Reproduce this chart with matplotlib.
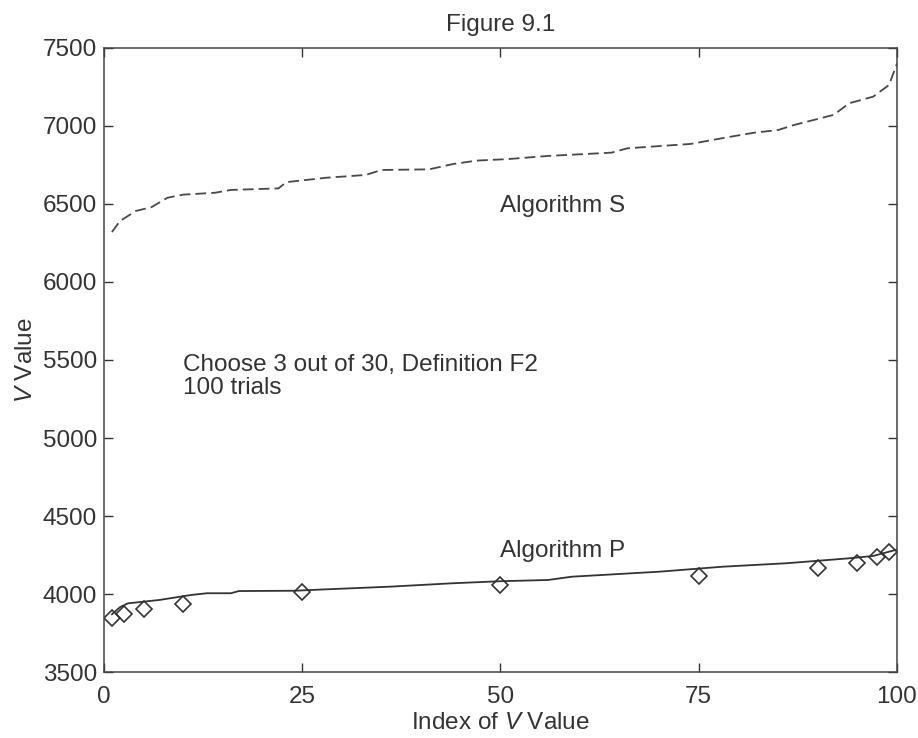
import numpy as np
import matplotlib
matplotlib.use("Agg")
import matplotlib.pyplot as plt

plt.rcParams['font.family'] = ['Liberation Sans', 'DejaVu Sans']
plt.rcParams['mathtext.fontset'] = 'custom'
plt.rcParams['mathtext.rm'] = 'Liberation Sans'
plt.rcParams['mathtext.it'] = 'Liberation Sans:italic'

# Algorithm S (dashed), sorted V values
s_idx = [1, 2, 4, 6, 8, 10, 14, 16, 22, 23, 28, 33, 35, 41, 44, 47, 51, 56,
         64, 66, 74, 79, 82, 85, 87, 92, 94, 97, 99, 100]
s_val = [6320, 6390, 6455, 6480, 6540, 6560, 6572, 6590, 6600, 6640, 6668,
         6686, 6718, 6722, 6756, 6778, 6788, 6808, 6829, 6857, 6885, 6931,
         6957, 6974, 7006, 7071, 7146, 7188, 7263, 7400]

# Algorithm P (solid)
p_idx = [1, 2, 3, 7, 11, 13, 16, 17, 24, 28, 36, 44, 50, 56, 59, 70, 78, 86,
         94, 97, 100]
p_val = [3870, 3915, 3940, 3962, 3994, 4005, 4005, 4019, 4021, 4030, 4047,
         4069, 4082, 4090, 4111, 4143, 4175, 4197, 4229, 4244, 4285]

# diamonds at percentiles
d_idx = [1, 2.5, 5, 10, 25, 50, 75, 90, 95, 97.5, 99]
d_val = [3844, 3872, 3904, 3936, 4011, 4058, 4116, 4165, 4201, 4239, 4271]

ink = '#333333'
fs = 17.5

fig = plt.figure(figsize=(9.18, 7.38), dpi=100)
ax = fig.add_axes([0.1133, 0.0894, 0.8638, 0.8456])

ax.plot(s_idx, s_val, color='#484848', lw=1.3, dashes=(6, 2.8))
ax.plot(p_idx, p_val, color=ink, lw=1.3)
ax.plot(d_idx, d_val, 'D', ms=8.5, mfc='none', mec=ink, mew=1.2)

ax.text(50, 6450, 'Algorithm S', fontsize=fs, color=ink, va='baseline')
ax.text(50, 4240, 'Algorithm P', fontsize=fs, color=ink, va='baseline')
ax.text(10, 5395, 'Choose 3 out of 30, Definition F2\n100 trials',
        fontsize=fs, color=ink, va='center', linespacing=1.05)

ax.set_xlim(0, 100)
ax.set_ylim(3500, 7500)
ax.set_xticks([0, 25, 50, 75, 100])
ax.set_yticks(np.arange(3500, 7501, 500))
ax.tick_params(direction='in', length=6.5, width=1, colors=ink,
               labelsize=fs, top=True, right=True)
ax.tick_params(axis='x', pad=10)
ax.tick_params(axis='y', pad=5)
for sp in ax.spines.values():
    sp.set_color('#444444')
    sp.set_linewidth(1.1)

ax.set_xlabel('Index of $\\mathit{V}$ Value', fontsize=fs, color=ink, labelpad=3)
ax.set_ylabel('$\\mathit{V}$ Value', fontsize=fs, color=ink, labelpad=4)
ax.set_title('Figure 9.1', fontsize=fs, color=ink, pad=12)

fig.savefig('out.png', dpi=100)
